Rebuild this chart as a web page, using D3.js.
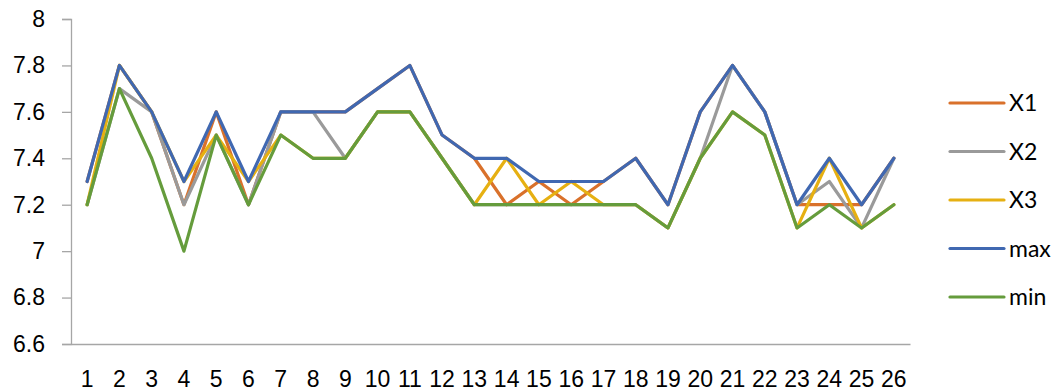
<!DOCTYPE html>
<html>
<head>
<meta charset="utf-8">
<script src="https://cdn.jsdelivr.net/npm/d3@7"></script>
<style>
  html, body { margin: 0; padding: 0; background: #fff; }
  svg { display: block; font-family: Lato, "Open Sans", "Liberation Sans", sans-serif; }
</style>
</head>
<body>
<svg id="chart" width="1057" height="392"></svg>
<script>
// Categories along the x axis
const categories = d3.range(1, 27).map(String);

// Series values
const X1  = [7.3, 7.8, 7.6, 7.2, 7.6, 7.2, 7.6, 7.6, 7.6, 7.7, 7.8, 7.5, 7.4, 7.2, 7.3, 7.2, 7.3, 7.4, 7.2, 7.6, 7.8, 7.6, 7.2, 7.2, 7.2, 7.4];
const X2  = [7.2, 7.7, 7.6, 7.2, 7.5, 7.2, 7.6, 7.6, 7.4, 7.6, 7.6, 7.4, 7.2, 7.2, 7.2, 7.2, 7.2, 7.2, 7.1, 7.4, 7.8, 7.6, 7.2, 7.3, 7.1, 7.4];
const X3  = [7.2, 7.8, 7.6, 7.3, 7.5, 7.3, 7.5, 7.4, 7.4, 7.6, 7.6, 7.4, 7.2, 7.4, 7.2, 7.3, 7.2, 7.2, 7.1, 7.4, 7.6, 7.5, 7.1, 7.4, 7.1, 7.2];
const MAX = [7.3, 7.8, 7.6, 7.3, 7.6, 7.3, 7.6, 7.6, 7.6, 7.7, 7.8, 7.5, 7.4, 7.4, 7.3, 7.3, 7.3, 7.4, 7.2, 7.6, 7.8, 7.6, 7.2, 7.4, 7.2, 7.4];
const MIN = [7.2, 7.7, 7.4, 7.0, 7.5, 7.2, 7.5, 7.4, 7.4, 7.6, 7.6, 7.4, 7.2, 7.2, 7.2, 7.2, 7.2, 7.2, 7.1, 7.4, 7.6, 7.5, 7.1, 7.2, 7.1, 7.2];

// Y axis tick values
const yTicks = [6.6, 6.8, 7, 7.2, 7.4, 7.6, 7.8, 8];

const seriesNames = ["X1", "X2", "X3", "max", "min"];
const seriesValues = [X1, X2, X3, MAX, MIN];
const seriesColors = ["#D9712B", "#9A9A9A", "#E6B012", "#4068B1", "#659C3C"];

const svg = d3.select("#chart");
const plotLeft = 71, plotRight = 910, plotTop = 19, plotBottom = 344;
const fontSize = "23px";

const x = d3.scaleBand().domain(categories).range([plotLeft, plotRight]).paddingInner(0).paddingOuter(0);
const y = d3.scaleLinear().domain([6.6, 8]).range([plotBottom, plotTop]);

// Y axis
const yAxis = svg.append("g")
  .attr("transform", `translate(${plotLeft},0)`)
  .call(d3.axisLeft(y).tickValues(yTicks).tickSize(9).tickPadding(17)
        .tickFormat(d => String(+d.toFixed(1))));
yAxis.select(".domain").attr("stroke", "#A6A6A6").attr("stroke-width", 1.3);
yAxis.selectAll(".tick line").attr("stroke", "#A6A6A6").attr("stroke-width", 1.3);
yAxis.selectAll(".tick text").attr("fill", "#000").style("font-size", fontSize);

// X axis
const xAxis = svg.append("g")
  .attr("transform", `translate(0,${plotBottom})`)
  .call(d3.axisBottom(x).tickSize(0).tickPadding(27));
xAxis.select(".domain").attr("stroke", "#A6A6A6").attr("stroke-width", 1.3);
xAxis.selectAll(".tick text").attr("fill", "#000").style("font-size", fontSize);

// Lines
const line = d3.line()
  .x((d, i) => x(categories[i]) + x.bandwidth() / 2)
  .y(d => y(d));

svg.append("g").selectAll("path")
  .data(seriesValues)
  .join("path")
  .attr("d", d => line(d))
  .attr("fill", "none")
  .attr("stroke", (d, i) => seriesColors[i])
  .attr("stroke-width", 3.2)
  .attr("stroke-linejoin", "round")
  .attr("stroke-linecap", "round");

// Legend
const legend = svg.append("g");
const lg = legend.selectAll("g")
  .data(seriesNames)
  .join("g")
  .attr("transform", (d, i) => `translate(950,${103 + i * 48.5})`);
lg.append("line")
  .attr("x1", 0).attr("x2", 54)
  .attr("stroke", (d, i) => seriesColors[i])
  .attr("stroke-width", 3.2)
  .attr("stroke-linecap", "round");
lg.append("text")
  .attr("x", 59).attr("y", 0).attr("dy", "0.35em")
  .style("font-size", fontSize)
  .attr("fill", "#000")
  .text(d => d);
</script>
</body>
</html>
